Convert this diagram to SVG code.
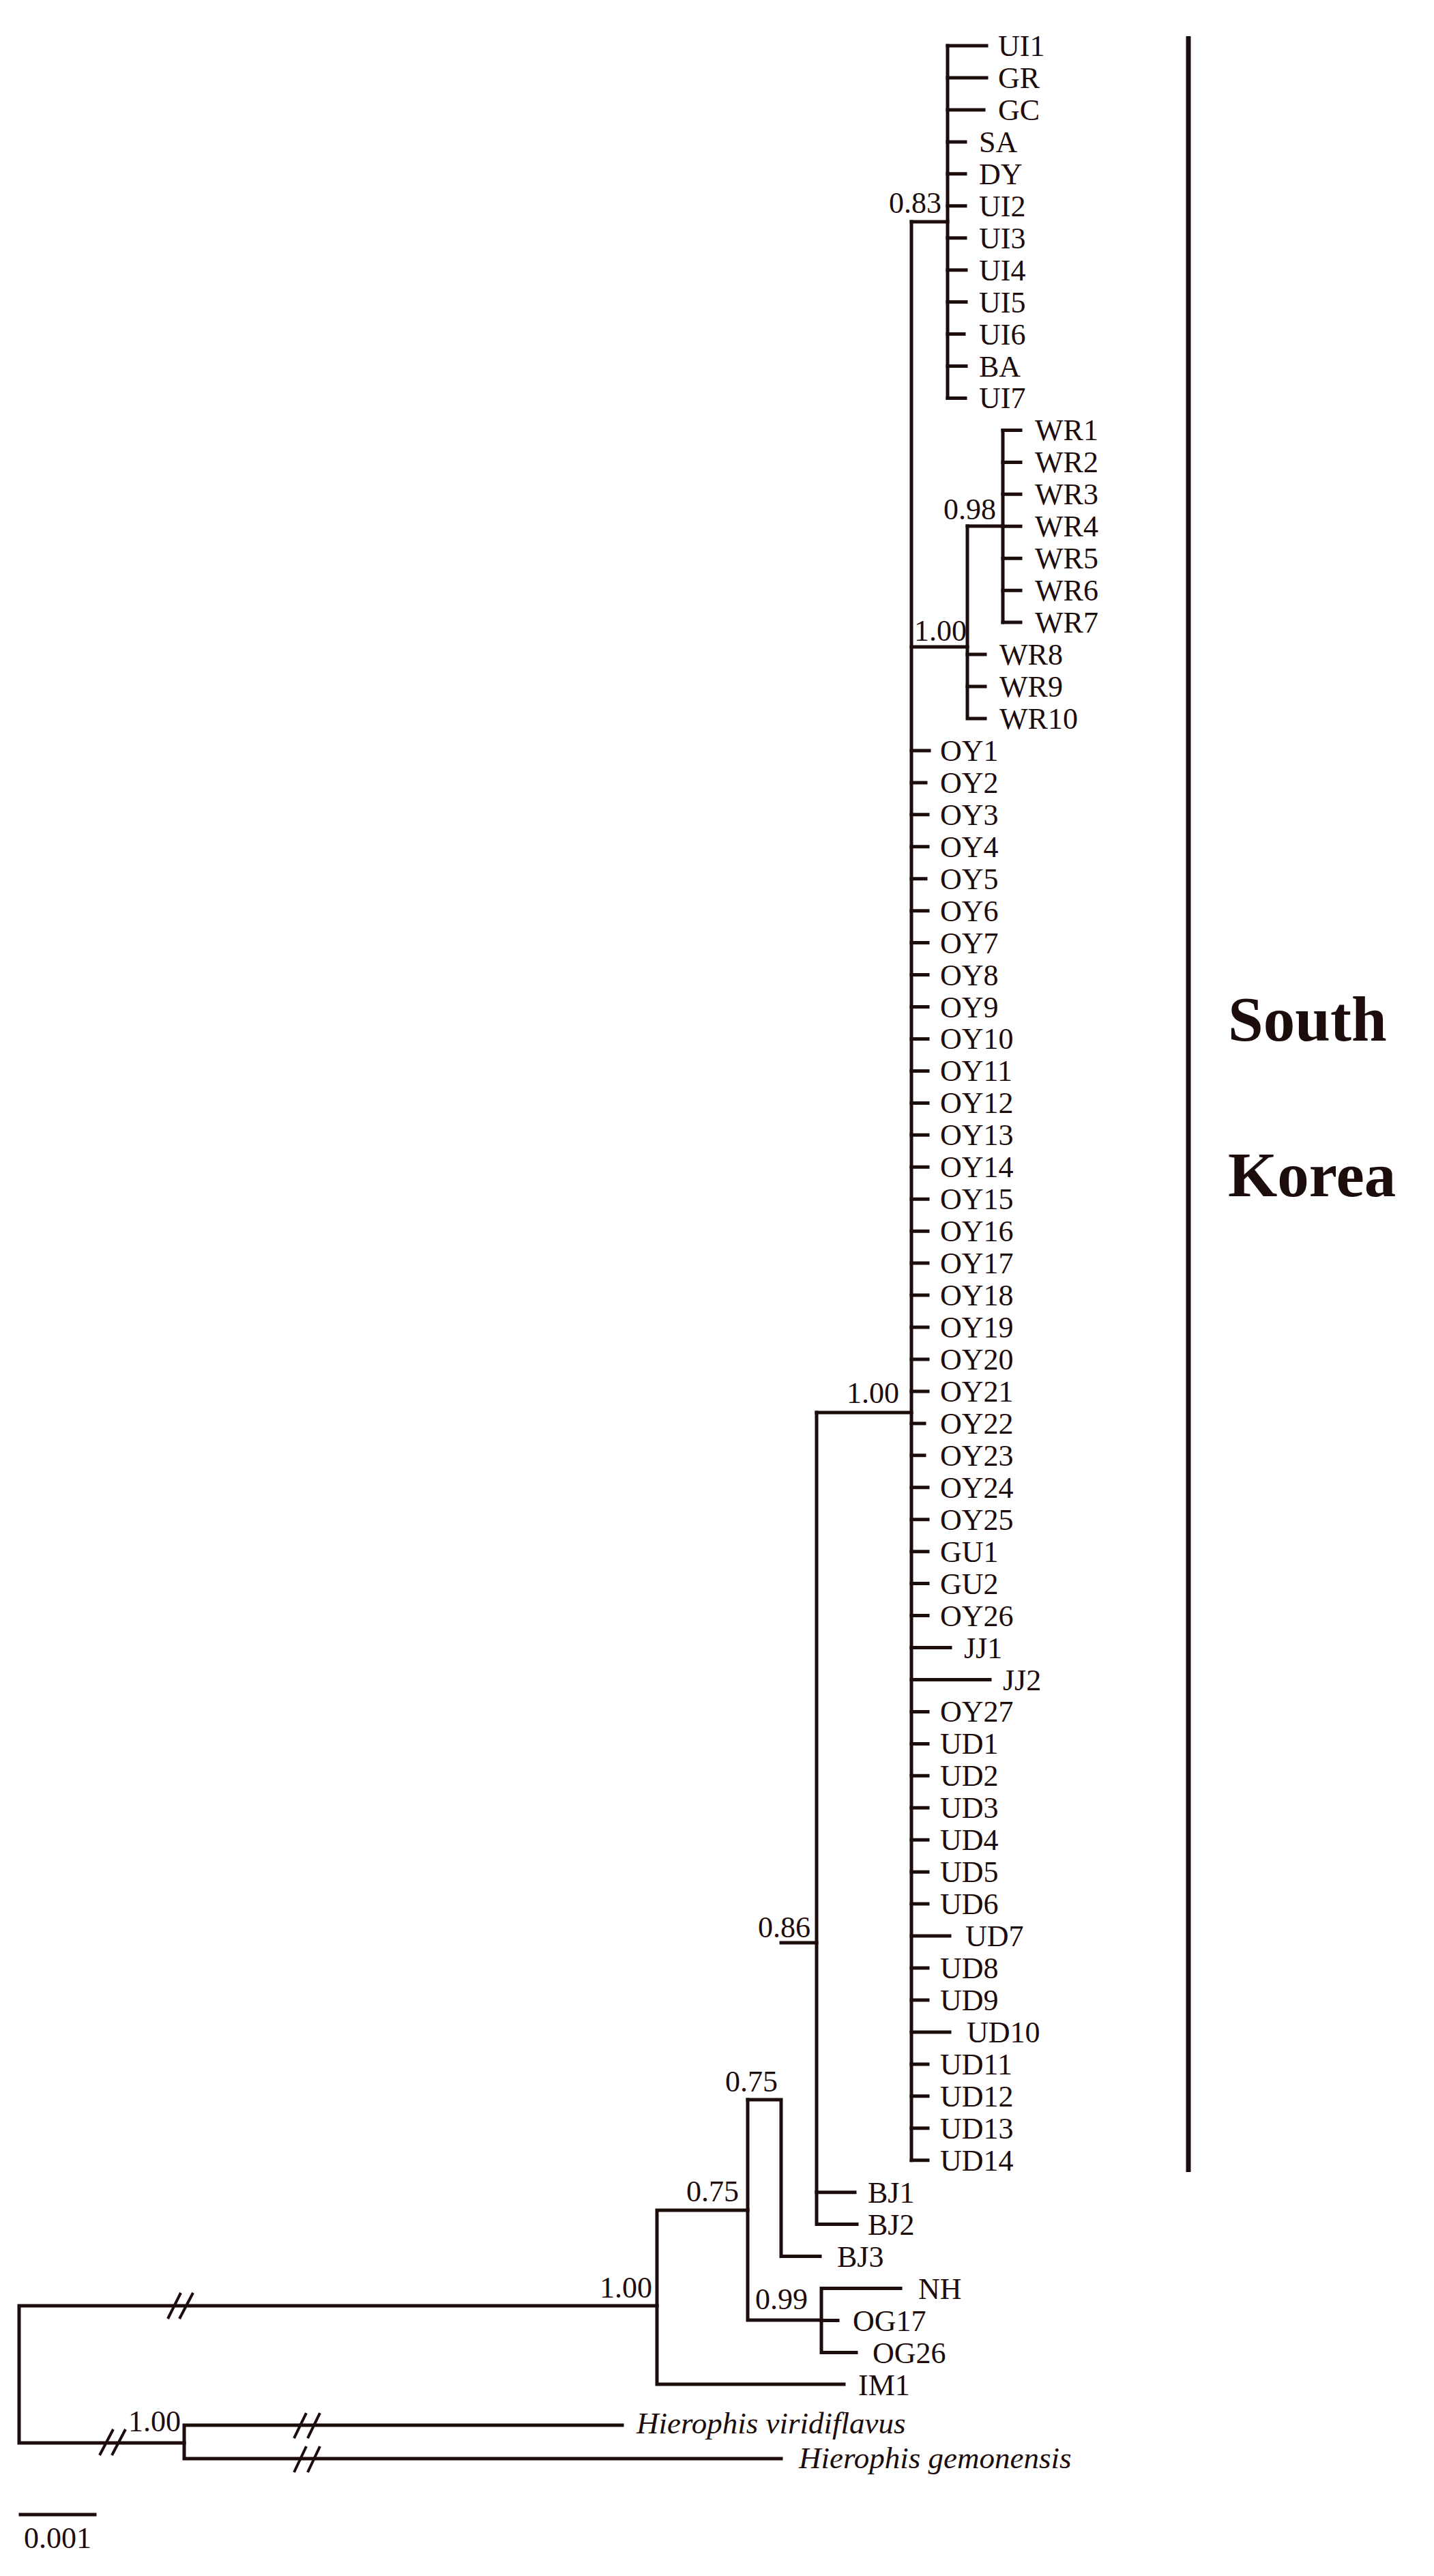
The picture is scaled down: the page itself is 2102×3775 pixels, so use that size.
<svg xmlns="http://www.w3.org/2000/svg" width="2102" height="3775" viewBox="0 0 2102 3775">
<style>
.br{stroke:#1c0c0c;stroke-width:5;fill:none;stroke-linecap:square;stroke-linejoin:miter}
.bk{stroke:#1c0c0c;stroke-width:4;fill:none}
.lb{font-family:'Liberation Serif','Times New Roman',serif;font-size:44px;fill:#1c0c0c}
.it{font-family:'Liberation Serif','Times New Roman',serif;font-size:45px;font-style:italic;fill:#1c0c0c}
.sv{font-family:'Liberation Serif','Times New Roman',serif;font-size:44px;fill:#1c0c0c}
.rg{font-family:'Liberation Serif','Times New Roman',serif;font-size:93px;font-weight:bold;fill:#1c0c0c}
</style>
<rect width="2102" height="3775" fill="#ffffff"/>
<g id="connectors">
<!-- root and outgroups -->
<path class="br" d="M963,3379 H28 V3580 H270"/>
<path class="br" d="M1145,3603 H270 V3554 H912"/>
<!-- ingroup -->
<path class="br" d="M1237,3494 H963 V3239 H1096"/>
<path class="br" d="M1096,3077 V3400 H1204"/>
<path class="br" d="M1320,3353.5 H1204 V3447.4 H1255"/>
<path class="br" d="M1204,3400.5 H1228"/>
<path class="br" d="M1096,3077 H1145 V3306.5 H1202"/>
<path class="br" d="M1145,2847 H1197"/>
<path class="br" d="M1197,2070 V3259.6 H1256"/>
<path class="br" d="M1197,3212.7 H1253"/>
<path class="br" d="M1197,2070 H1336"/>
<path class="br" d="M1336,325 V3165.7"/>
<path class="br" d="M1336,325 H1389 V583.5"/>
<path class="br" d="M1389,67 V325"/>
<path class="br" d="M1336,948 H1418 V1053 H1444"/>
<path class="br" d="M1418,771 V948"/>
<path class="br" d="M1418,771 H1470"/>
<path class="br" d="M1470,630.4 V912.1"/>
<!-- UI clade tips -->
<path class="br" d="M1389,67 H1446 M1389,114 H1446 M1389,160.9 H1442 M1389,207.9 H1415 M1389,254.8 H1415 M1389,301.8 H1415 M1389,348.7 H1415 M1389,395.7 H1416 M1389,442.6 H1416 M1389,489.6 H1413 M1389,536.5 H1416 M1389,583.5 H1415"/>
<!-- WR tips -->
<path class="br" d="M1470,630.4 H1496 M1470,677.4 H1496 M1470,724.3 H1496 M1470,771.3 H1496 M1470,818.2 H1496 M1470,865.2 H1496 M1470,912.1 H1496 M1418,959.1 H1444 M1418,1006 H1444"/>
<!-- main clade tips -->
<path class="br" d="M1336,1099.9 H1362 M1336,1146.9 H1357 M1336,1193.8 H1360 M1336,1240.8 H1360 M1336,1287.7 H1357 M1336,1334.7 H1360 M1336,1381.6 H1360 M1336,1428.6 H1360 M1336,1475.5 H1360 M1336,1522.5 H1360 M1336,1569.4 H1360 M1336,1616.4 H1360 M1336,1663.3 H1360 M1336,1710.3 H1360 M1336,1757.2 H1360 M1336,1804.2 H1360 M1336,1851.1 H1360 M1336,1898.1 H1360 M1336,1945 H1360 M1336,1992 H1360 M1336,2038.9 H1360 M1336,2085.9 H1355 M1336,2132.8 H1355 M1336,2179.8 H1360 M1336,2226.7 H1360 M1336,2273.7 H1360 M1336,2320.6 H1360 M1336,2367.6 H1360 M1336,2414.5 H1393 M1336,2461.5 H1451 M1336,2508.4 H1360 M1336,2555.4 H1360 M1336,2602.3 H1360 M1336,2649.3 H1360 M1336,2696.2 H1360 M1336,2743.2 H1360 M1336,2790.1 H1360 M1336,2837.1 H1392 M1336,2884 H1360 M1336,2931 H1360 M1336,2977.9 H1392 M1336,3024.9 H1360 M1336,3071.8 H1360 M1336,3118.8 H1360 M1336,3165.7 H1360"/>
<!-- axis breaks -->
<path class="bk" d="M246,3398 L265,3360 M263,3398 L283,3360"/>
<path class="bk" d="M146,3598 L166,3560 M164,3598 L184,3560"/>
<path class="bk" d="M431,3573 L449,3536 M451,3573 L469,3536"/>
<path class="bk" d="M431,3623 L449,3585 M451,3623 L469,3585"/>
<!-- scale bar -->
<path class="br" d="M30,3685 H139"/>
<!-- region bar -->
<path d="M1742,53 V3183" stroke="#1c0c0c" stroke-width="7" fill="none"/>
</g>
<g id="tips" class="lb">
<g id="UI1"><text x="1463" y="82">UI1</text></g>
<g id="GR"><text x="1463" y="129">GR</text></g>
<g id="GC"><text x="1463" y="176">GC</text></g>
<g id="SA"><text x="1435" y="223">SA</text></g>
<g id="DY"><text x="1435" y="270">DY</text></g>
<g id="UI2"><text x="1435" y="317">UI2</text></g>
<g id="UI3"><text x="1435" y="364">UI3</text></g>
<g id="UI4"><text x="1435" y="411">UI4</text></g>
<g id="UI5"><text x="1435" y="458">UI5</text></g>
<g id="UI6"><text x="1435" y="505">UI6</text></g>
<g id="BA"><text x="1435" y="552">BA</text></g>
<g id="UI7"><text x="1435" y="598">UI7</text></g>
<g id="WR1"><text x="1517" y="645">WR1</text></g>
<g id="WR2"><text x="1517" y="692">WR2</text></g>
<g id="WR3"><text x="1517" y="739">WR3</text></g>
<g id="WR4"><text x="1517" y="786">WR4</text></g>
<g id="WR5"><text x="1517" y="833">WR5</text></g>
<g id="WR6"><text x="1517" y="880">WR6</text></g>
<g id="WR7"><text x="1517" y="927">WR7</text></g>
<g id="WR8"><text x="1465" y="974">WR8</text></g>
<g id="WR9"><text x="1465" y="1021">WR9</text></g>
<g id="WR10"><text x="1465" y="1068">WR10</text></g>
<g id="OY1"><text x="1378" y="1115">OY1</text></g>
<g id="OY2"><text x="1378" y="1162">OY2</text></g>
<g id="OY3"><text x="1378" y="1209">OY3</text></g>
<g id="OY4"><text x="1378" y="1256">OY4</text></g>
<g id="OY5"><text x="1378" y="1303">OY5</text></g>
<g id="OY6"><text x="1378" y="1350">OY6</text></g>
<g id="OY7"><text x="1378" y="1397">OY7</text></g>
<g id="OY8"><text x="1378" y="1444">OY8</text></g>
<g id="OY9"><text x="1378" y="1491">OY9</text></g>
<g id="OY10"><text x="1378" y="1537">OY10</text></g>
<g id="OY11"><text x="1378" y="1584">OY11</text></g>
<g id="OY12"><text x="1378" y="1631">OY12</text></g>
<g id="OY13"><text x="1378" y="1678">OY13</text></g>
<g id="OY14"><text x="1378" y="1725">OY14</text></g>
<g id="OY15"><text x="1378" y="1772">OY15</text></g>
<g id="OY16"><text x="1378" y="1819">OY16</text></g>
<g id="OY17"><text x="1378" y="1866">OY17</text></g>
<g id="OY18"><text x="1378" y="1913">OY18</text></g>
<g id="OY19"><text x="1378" y="1960">OY19</text></g>
<g id="OY20"><text x="1378" y="2007">OY20</text></g>
<g id="OY21"><text x="1378" y="2054">OY21</text></g>
<g id="OY22"><text x="1378" y="2101">OY22</text></g>
<g id="OY23"><text x="1378" y="2148">OY23</text></g>
<g id="OY24"><text x="1378" y="2195">OY24</text></g>
<g id="OY25"><text x="1378" y="2242">OY25</text></g>
<g id="GU1"><text x="1378" y="2289">GU1</text></g>
<g id="GU2"><text x="1378" y="2336">GU2</text></g>
<g id="OY26"><text x="1378" y="2383">OY26</text></g>
<g id="JJ1"><text x="1413" y="2430">JJ1</text></g>
<g id="JJ2"><text x="1470" y="2477">JJ2</text></g>
<g id="OY27"><text x="1378" y="2523">OY27</text></g>
<g id="UD1"><text x="1378" y="2570">UD1</text></g>
<g id="UD2"><text x="1378" y="2617">UD2</text></g>
<g id="UD3"><text x="1378" y="2664">UD3</text></g>
<g id="UD4"><text x="1378" y="2711">UD4</text></g>
<g id="UD5"><text x="1378" y="2758">UD5</text></g>
<g id="UD6"><text x="1378" y="2805">UD6</text></g>
<g id="UD7"><text x="1415" y="2852">UD7</text></g>
<g id="UD8"><text x="1378" y="2899">UD8</text></g>
<g id="UD9"><text x="1378" y="2946">UD9</text></g>
<g id="UD10"><text x="1417" y="2993">UD10</text></g>
<g id="UD11"><text x="1378" y="3040">UD11</text></g>
<g id="UD12"><text x="1378" y="3087">UD12</text></g>
<g id="UD13"><text x="1378" y="3134">UD13</text></g>
<g id="UD14"><text x="1378" y="3181">UD14</text></g>
<g id="BJ1"><text x="1272" y="3228">BJ1</text></g>
<g id="BJ2"><text x="1272" y="3275">BJ2</text></g>
<g id="BJ3"><text x="1227" y="3322">BJ3</text></g>
<g id="NH"><text x="1346" y="3369">NH</text></g>
<g id="OG17"><text x="1250" y="3416">OG17</text></g>
<g id="OG26"><text x="1279" y="3463">OG26</text></g>
<g id="IM1"><text x="1258" y="3510">IM1</text></g>
<g id="H_viridiflavus"><text class="it" x="933" y="3566">Hierophis viridiflavus</text></g>
<g id="H_gemonensis"><text class="it" x="1171" y="3617">Hierophis gemonensis</text></g>
</g>
<g id="support" class="sv">
<text x="1380" y="312" text-anchor="end">0.83</text>
<text x="1460" y="761" text-anchor="end">0.98</text>
<text x="1340" y="939">1.00</text>
<text x="1318" y="2056" text-anchor="end">1.00</text>
<text x="1188" y="2839" text-anchor="end">0.86</text>
<text x="1140" y="3065" text-anchor="end">0.75</text>
<text x="1083" y="3226" text-anchor="end">0.75</text>
<text x="1107" y="3384">0.99</text>
<text x="956" y="3367" text-anchor="end">1.00</text>
<text x="188" y="3563">1.00</text>
</g>
<g id="region">
<text class="rg" x="1800" y="1525">South</text>
<text class="rg" x="1800" y="1753">Korea</text>
</g>
<g id="scale">
<text class="lb" x="35" y="3734">0.001</text>
</g>
</svg>
